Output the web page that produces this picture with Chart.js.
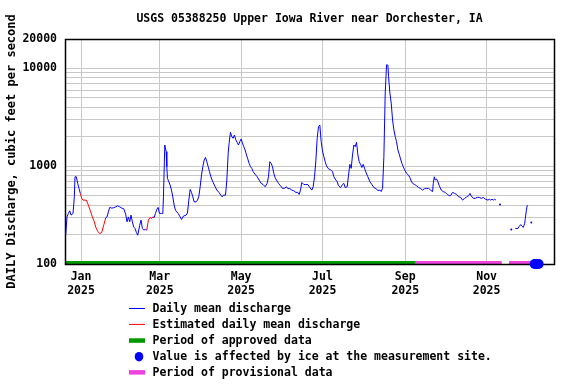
<!DOCTYPE html>
<html lang="en">
  <head>
    <meta charset="UTF-8" />
    <title>USGS 05388250 Upper Iowa River near Dorchester, IA</title>
    <script src="https://cdn.jsdelivr.net/npm/chart.js"></script>
    <style>
      html,
      body {
        margin: 0;
        padding: 0;
        background: #ffffff;
      }
    </style>
  </head>
  <body>
    <canvas id="flowChart" width="576" height="384"></canvas>

    <script>
      const FONT = "'DejaVu Sans Mono', 'Liberation Mono', monospace";
      const BLUE = "#0000ff";
      const RED = "#ff0000";
      const GREEN = "#009900";
      const PINK = "#ee44dd";

      // days since Jan 1 2025, daily mean discharge (cfs); null = no record
      const days = [
        -11.5, -10.5, -9.5, -8.5, -7.5, -6, -5, -4.5, -3.5, -2.5, -1.5, -0.5,
        0.5, 1.5, 4, 5.5, 7, 8.5, 10, 11, 12.5, 14, 15.5, 17, 18.5, 19.5, 20.5,
        21.5, 23, 24.5, 26, 27.5, 29, 30.5, 32, 33.5, 34.5, 35.5, 36.5, 37.5,
        38.5, 39.5, 40.5, 41.5, 42.5, 44, 45, 46, 47, 48.3, 49.3, 50.5, 51.7,
        52.8, 53.8, 54.8, 55.8, 56.8, 57.8, 58.8, 60.3, 61.3, 61.8, 62.8, 63.8,
        64.3, 64.8, 65.8, 66.8, 67.8, 68.8, 69.8, 70.8, 71.8, 72.8, 74.3, 75.3,
        76.8, 78.8, 79.8, 80.8, 81.8, 82.8, 83.8, 84.8, 86.3, 87.3, 88.3, 89.3,
        90.3, 91.3, 92.3, 93.3, 94.3, 95.3, 96.3, 97.3, 98.8, 100.3, 101.8,
        103.3, 104.8, 105.8, 106.8, 108.3, 109.3, 110.3, 111, 112, 113, 114,
        115, 116, 117, 118, 119, 120, 121, 122, 123, 124, 125, 126, 127, 128,
        129, 130.5, 132, 133.5, 135, 136.5, 138, 139.5, 140.5, 141.5, 142.5,
        143.5, 144.5, 145.5, 146.5, 148, 149.5, 151, 152.5, 154, 155, 156.5,
        158, 159.5, 161, 162.5, 163.5, 164.5, 165.5, 167, 168.5, 170, 171.5,
        173, 174, 175, 176, 177, 178, 179, 180, 181, 182, 183, 184, 185.5, 187,
        188.5, 189.5, 190.5, 192, 193, 194.5, 196, 197, 198, 199.5, 200.5,
        201.5, 202.5, 203.5, 204.5, 205.5, 206.5, 207.5, 208.5, 209.5, 210.5,
        211.5, 212.5, 213.5, 215, 216.5, 218, 219.5, 221, 222.5, 224, 225, 226,
        227, 228, 229, 230, 230.5, 231.5, 232.5, 233.5, 234.5, 235.5, 236.5,
        237.5, 238.5, 239.5, 240.5, 241.5, 242.5, 244, 245.5, 246.5, 247.5,
        248.5, 250, 251.5, 253, 254.5, 256, 257.5, 259, 260.5, 262, 263.5, 264,
        264.8, 265.5, 266.5, 267.5, 268.5, 270, 271.5, 273, 274.5, 276, 277,
        278.5, 280, 281.5, 283, 284.5, 286, 287.5, 289, 290.5, 291.5, 292.5,
        294, 295.5, 297, 298.5, 300, 301.5, 303, 305, 306, 307, 308, 309, 310,
        311, 312, 314, 316, 322.5, 324, 325.5, 327.5, 328.5, 329.5, 330.5,
        331.5, 332.5, 333, 333.8, 334.5, 336, 337.5,
      ];
      const flow = [
        197, 303, 329, 350, 316, 329, 486, 780, 780, 668, 594, 527,
        469, 450, 450, 400, 350, 303, 270, 239, 216, 205, 210, 249, 296, 303, 341,
        379, 373, 376, 384, 394, 384, 373, 368, 322, 270, 303, 270, 316,
        270, 239, 231, 210, 197, 249, 281, 231, 222, 226, 222, 281, 299,
        292, 303, 299, 329, 361, 379, 329, 329, 329, 486, 1648, 1410,
        990, 751, 693, 641, 570, 486, 400, 355, 341, 329, 303, 285,
        309, 316, 333, 450, 579, 541, 486, 432, 432, 450, 491, 616,
        811, 990, 1157, 1230, 1112, 990, 880, 780, 693, 626, 570,
        541, 506, 486, 506, 506, 722, 1360, 1722, 2220, 2007, 1930,
        2085, 1860, 1755, 1648, 1780, 1900, 1722, 1585, 1467, 1304, 1186, 1070, 990, 951,
        880, 827, 780, 722, 668, 650, 616, 668, 780, 1112, 1070,
        990, 846, 763, 722, 668, 632, 594, 594, 616, 590, 590,
        570, 560, 540, 540, 515, 570, 682, 650, 650, 650, 605,
        570, 616, 780, 1130, 1930, 2540, 2640, 1780, 1430, 1254, 1112, 1010, 941, 920,
        880, 780, 740, 693, 632, 605, 650, 668, 605, 616, 810,
        1045, 951, 1304, 1648, 1585, 1755, 1304, 1112, 1045, 970,
        1045, 951, 870, 780, 693, 650, 605, 590, 565, 570, 550, 594,
        1254, 5600, 10900, 10800, 8280, 5600, 4420, 2975, 2350, 2007, 1780,
        1467, 1328, 1186, 1070, 990, 920, 846, 810, 763, 705,
        668, 650, 632, 605, 590, 570, 590, 590, 594, 570, 550, 668,
        780, 722, 740, 693, 632, 570, 550, 540, 515, 500, 500,
        540, 527, 515, 486, 480, 450, 469, 486, 500, 527, 497,
        469, 469, 480, 480, 469, 480, 460, 450, 460, 450, 460, 450, 460,
        450, null, 407, null, 225, null, 231, 231, 243, 253, 243,
        237, 259, 292, 355, 400, null, 266,
      ];

      const estimated = [
        [-0.5, 18.5],
        [49.3, 53.8],
      ];
      const iceDays = [340, 341, 342, 343];
      const approved = [[-12, 250.3]];
      const provisional = [
        [250.3, 315.3],
        [320.8, 345.5],
      ];

      const tickDays = [0, 59, 120, 181, 243, 304];
      const tickMonths = ["Jan", "Mar", "May", "Jul", "Sep", "Nov"];
      const tickYear = "2025";
      const yGrid = [
        100, 200, 300, 400, 500, 600, 700, 800, 900, 1000, 2000, 3000, 4000,
        5000, 6000, 7000, 8000, 9000, 10000, 20000,
      ];
      const yLabels = [100, 1000, 10000, 20000];

      const legendRows = [
        { text: "Daily mean discharge", kind: "line", color: BLUE },
        { text: "Estimated daily mean discharge", kind: "line", color: RED },
        { text: "Period of approved data", kind: "bar", color: GREEN },
        {
          text: "Value is affected by ice at the measurement site.",
          kind: "dot",
          color: BLUE,
        },
        { text: "Period of provisional data", kind: "bar", color: PINK },
      ];

      // build the two discharge series
      const inEst = (d) => estimated.some(([a, b]) => d > a && d < b);
      const meanPts = days.map((d, i) => ({
        x: d,
        y: inEst(d) ? null : flow[i],
      }));
      const estPts = [];
      estimated.forEach(([a, b], k) => {
        if (k) estPts.push({ x: (a + estimated[k - 1][1]) / 2, y: null });
        days.forEach((d, i) => {
          if (d >= a && d <= b) estPts.push({ x: d, y: flow[i] });
        });
      });

      // lone days with no neighbours get drawn as a dot
      function loneDot(ctx) {
        const data = ctx.dataset.data;
        const i = ctx.dataIndex;
        const prev = data[i - 1];
        const next = data[i + 1];
        if (data[i].y == null) return 0;
        return (!prev || prev.y == null) && (!next || next.y == null) ? 1 : 0;
      }

      const frameAndBars = {
        id: "frameAndBars",
        beforeDatasetsDraw(chart) {
          const { ctx, chartArea: a } = chart;
          const x = chart.scales.x;
          ctx.save();
          const bar = (ranges, color) =>
            ranges.forEach(([s, e]) => {
              const x1 = Math.max(a.left, x.getPixelForValue(s));
              const x2 = Math.min(a.right, x.getPixelForValue(e));
              ctx.fillStyle = color;
              ctx.fillRect(x1, a.bottom - 3, x2 - x1, 4);
            });
          bar(approved, GREEN);
          bar(provisional, PINK);
          ctx.strokeStyle = "#000000";
          ctx.lineWidth = 1.5;
          ctx.strokeRect(a.left + 0.5, a.top + 0.5, a.right - a.left, a.bottom - a.top);
          ctx.restore();
        },
      };

      const usgsLegend = {
        id: "usgsLegend",
        afterDraw(chart) {
          const ctx = chart.ctx;
          ctx.save();
          ctx.font = "bold 11.5px " + FONT;
          ctx.textBaseline = "middle";
          ctx.textAlign = "left";
          legendRows.forEach((row, i) => {
            const y = 309 + i * 15.9;
            ctx.fillStyle = row.color;
            ctx.strokeStyle = row.color;
            if (row.kind === "line") {
              ctx.lineWidth = 1;
              ctx.beginPath();
              ctx.moveTo(129, y - 0.5);
              ctx.lineTo(145, y - 0.5);
              ctx.stroke();
            } else if (row.kind === "bar") {
              ctx.fillRect(129, y - 2.5, 16, 4.5);
            } else {
              ctx.beginPath();
              ctx.ellipse(139, y, 4.3, 4.8, 0, 0, Math.PI * 2);
              ctx.fill();
            }
            ctx.fillStyle = "#000000";
            ctx.fillText(row.text, 152.5, y);
          });
          ctx.restore();
        },
      };

      const tickFont = { family: FONT, size: 11.5, weight: "bold" };

      new Chart(document.getElementById("flowChart"), {
        type: "line",
        data: {
          datasets: [
            {
              label: "Daily mean discharge",
              data: meanPts,
              borderColor: BLUE,
              backgroundColor: BLUE,
              borderWidth: 1,
              pointRadius: loneDot,
              pointBorderWidth: 0,
              tension: 0,
            },
            {
              label: "Estimated daily mean discharge",
              data: estPts,
              borderColor: RED,
              borderWidth: 1,
              pointRadius: 0,
              tension: 0,
            },
            {
              label: "Ice",
              data: iceDays.map((d) => ({ x: d, y: 100 })),
              showLine: false,
              pointRadius: 5,
              pointBorderWidth: 0,
              backgroundColor: BLUE,
              borderColor: BLUE,
              clip: false,
            },
          ],
        },
        options: {
          responsive: false,
          animation: false,
          layout: { padding: { left: 0, right: 22, top: 0, bottom: 0 } },
          scales: {
            x: {
              type: "linear",
              min: -12,
              max: 354.5,
              afterFit: (s) => {
                s.height = 120;
              },
              afterBuildTicks: (s) => {
                s.ticks = tickDays.map((v) => ({ value: v }));
              },
              ticks: {
                autoSkip: false,
                maxRotation: 0,
                padding: 6,
                color: "#000000",
                font: tickFont,
                callback: (v, i) => [tickMonths[i], tickYear],
              },
              grid: { color: "#c8c8c8", drawTicks: false },
              border: { display: false },
            },
            y: {
              type: "logarithmic",
              min: 100,
              max: 20000,
              afterFit: (s) => {
                s.width = 65;
              },
              afterBuildTicks: (s) => {
                s.ticks = yGrid.map((v) => ({ value: v }));
              },
              ticks: {
                autoSkip: false,
                padding: 8,
                color: "#000000",
                font: tickFont,
                callback: (v) => (yLabels.includes(v) ? String(v) : ""),
              },
              grid: { color: "#c8c8c8", drawTicks: false },
              border: { display: false },
              title: {
                display: true,
                text: "DAILY Discharge, cubic feet per second",
                color: "#000000",
                font: { family: FONT, size: 12, weight: "bold" },
                padding: { top: 5, bottom: 0 },
              },
            },
          },
          plugins: {
            legend: { display: false },
            tooltip: { enabled: false },
            title: {
              display: true,
              fullSize: false,
              text: "USGS 05388250 Upper Iowa River near Dorchester, IA",
              color: "#000000",
              font: { family: FONT, size: 11.5, weight: "bold" },
              padding: { top: 12, bottom: 13.2 },
            },
          },
        },
        plugins: [frameAndBars, usgsLegend],
      });
    </script>
  </body>
</html>
